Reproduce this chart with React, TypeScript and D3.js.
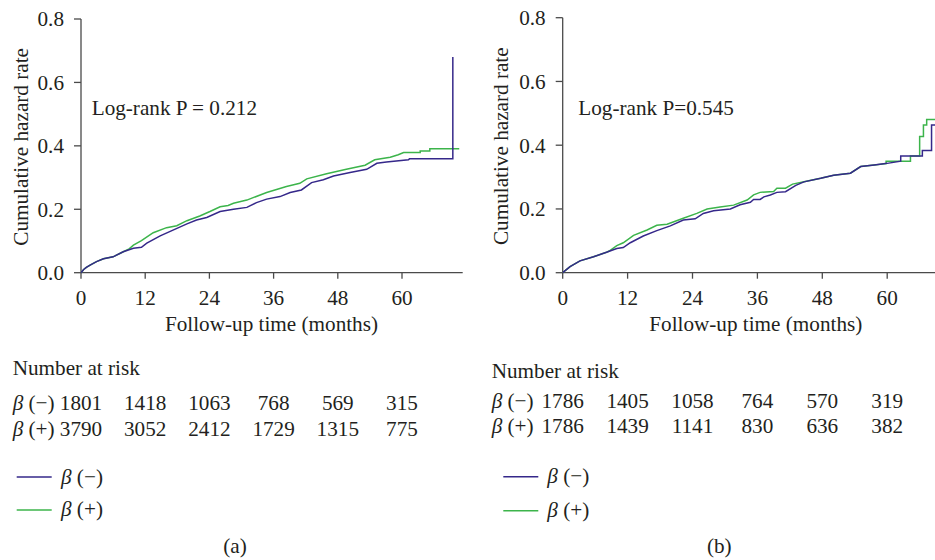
import React from "react";
import * as d3 from "d3";

// ---------- data ----------
const xTicks = [0, 12, 24, 36, 48, 60];
const yTicks = [0, 0.2, 0.4, 0.6, 0.8];

const riskA_neg = [1801, 1418, 1063, 768, 569, 315];
const riskA_pos = [3790, 3052, 2412, 1729, 1315, 775];
const riskB_neg = [1786, 1405, 1058, 764, 570, 319];
const riskB_pos = [1786, 1439, 1141, 830, 636, 382];

const pA = "Log-rank P = 0.212";
const pB = "Log-rank P=0.545";

// Panel (a) β(−)
const aNegT = [0, 0.5, 1, 1.7, 2.9, 4.2, 6.0, 7.9, 9.8, 11.3, 12.3, 14.8, 17.3, 19.8, 21.6, 23.5, 26, 28.5, 31, 32.8, 34.7, 37.2, 39.1, 41.2, 43.1, 45.3, 47.2, 50.3, 53.4, 55.3, 57.1, 61.2, 61.4, 69.5, 69.5];
const aNegV = [0, 0.01, 0.017, 0.024, 0.035, 0.044, 0.05, 0.066, 0.077, 0.08, 0.093, 0.116, 0.135, 0.154, 0.166, 0.174, 0.193, 0.2, 0.206, 0.221, 0.232, 0.24, 0.253, 0.261, 0.284, 0.293, 0.305, 0.316, 0.326, 0.345, 0.349, 0.356, 0.359, 0.359, 0.68];
// Panel (a) β(+)
const aPosT = [0, 0.5, 1, 1.7, 2.9, 4.2, 6.0, 7.9, 9.0, 9.8, 11.3, 13.5, 16, 17.9, 19.8, 22.2, 24.1, 26, 27.5, 28.5, 31, 34.7, 38.4, 40.9, 42.2, 45.9, 49.6, 53.1, 54.9, 57.8, 59.3, 60.3, 63.4, 63.4, 65.2, 65.2, 70.7];
const aPosV = [0, 0.01, 0.017, 0.024, 0.035, 0.044, 0.05, 0.066, 0.075, 0.087, 0.101, 0.126, 0.142, 0.148, 0.164, 0.179, 0.193, 0.208, 0.212, 0.219, 0.229, 0.253, 0.272, 0.282, 0.296, 0.312, 0.326, 0.339, 0.356, 0.364, 0.372, 0.379, 0.379, 0.384, 0.384, 0.391, 0.391];
// Panel (b) β(−)
const bNegT = [0, 1.36, 3.2, 5.7, 8.1, 10, 11.2, 12.5, 14.9, 17.4, 19.9, 22.3, 24.5, 26, 27.9, 31, 32.8, 34.7, 35.3, 36.5, 37.2, 38.4, 39.6, 41.2, 43.1, 44.6, 47.7, 50.1, 53.2, 55.1, 57.6, 60, 62.5, 62.5, 66.5, 66.5, 68.2, 68.2, 70];
const bNegV = [0, 0.019, 0.037, 0.05, 0.064, 0.076, 0.079, 0.094, 0.115, 0.132, 0.147, 0.165, 0.169, 0.186, 0.194, 0.2, 0.213, 0.221, 0.23, 0.23, 0.238, 0.244, 0.252, 0.254, 0.274, 0.285, 0.296, 0.306, 0.312, 0.333, 0.338, 0.343, 0.35, 0.366, 0.366, 0.383, 0.383, 0.463, 0.463];
// Panel (b) β(+)
const bPosT = [0, 1.36, 3.2, 5.7, 8.1, 8.6, 10, 11.2, 13.1, 15.6, 17.4, 19.3, 22.3, 24.8, 26.7, 29.1, 31.6, 34.1, 35.3, 36.5, 39, 39.6, 41.2, 42.5, 44.6, 47.7, 50.1, 53.2, 55.1, 57.6, 59.8, 59.8, 64.3, 64.3, 66, 66, 66.7, 66.7, 67.3, 67.3, 70];
const bPosV = [0, 0.019, 0.037, 0.05, 0.064, 0.068, 0.085, 0.094, 0.117, 0.134, 0.149, 0.152, 0.171, 0.186, 0.2, 0.206, 0.212, 0.228, 0.244, 0.252, 0.255, 0.265, 0.265, 0.278, 0.285, 0.296, 0.306, 0.312, 0.333, 0.338, 0.342, 0.35, 0.35, 0.366, 0.366, 0.427, 0.427, 0.463, 0.463, 0.481, 0.481];

// ---------- style ----------
const FONT = "'Liberation Serif', 'Times New Roman', serif";
const FS = 21.2;
const TXT = "#231f20";
const AXIS = "#4a4a4a";
const BLUE = "#35288a";
const GREEN = "#3cb44b";

type PanelCfg = {
  id: string;
  x0: number; x1: number; xMax: number;
  yTop: number; yBot: number;
  ytitleX: number; xtitleX: number;
  pText: string; pX: number;
  neg: [number[], number[]]; pos: [number[], number[]];
  riskNeg: number[]; riskPos: number[];
  tableX: number; tableY: number; row1: number; row2: number;
  legX0: number; legX1: number; legY1: number; legY2: number; legLabelX: number;
  label: string; labelX: number;
};

function beta(sign: string) {
  return (
    <>
      <tspan fontStyle="italic">β</tspan>
      <tspan> ({sign})</tspan>
    </>
  );
}

function Panel({ c }: { c: PanelCfg }) {
  const x = d3.scaleLinear().domain([0, c.xMax]).range([c.x0, c.x1]);
  const y = d3.scaleLinear().domain([0, 0.8]).range([c.yBot, c.yTop]);
  const mk = (ts: number[], vs: number[]) =>
    d3
      .line<number>()
      .x((t) => x(t))
      .y((_, i) => y(vs[i]))(ts) as string;
  const clipId = "clip-" + c.id;
  return (
    <g fontFamily={FONT} fontSize={FS} fill={TXT}>
      <defs>
        <clipPath id={clipId}>
          <rect x={c.x0} y={0} width={c.x1 - c.x0} height={c.yBot + 1} />
        </clipPath>
      </defs>
      {/* axes */}
      <line x1={c.x0} x2={c.x0} y1={y(0.8)} y2={c.yBot} stroke={AXIS} strokeWidth={1.3} />
      <line x1={c.x0} x2={c.x1} y1={c.yBot} y2={c.yBot} stroke={AXIS} strokeWidth={1.3} />
      {yTicks.map((v) => (
        <g key={"y" + v}>
          <line x1={c.x0 - 7} x2={c.x0} y1={y(v)} y2={y(v)} stroke={AXIS} strokeWidth={1.3} />
          <text x={c.x0 - 17} y={y(v)} dy="0.35em" textAnchor="end">
            {v.toFixed(1)}
          </text>
        </g>
      ))}
      {xTicks.map((t) => (
        <g key={"x" + t}>
          <line x1={x(t)} x2={x(t)} y1={c.yBot} y2={c.yBot + 6} stroke={AXIS} strokeWidth={1.3} />
          <text x={x(t)} y={305} textAnchor="middle">
            {t}
          </text>
        </g>
      ))}
      <text
        transform={`translate(${c.ytitleX},${(c.yBot + y(0.8)) / 2 + 1}) rotate(-90)`}
        textAnchor="middle"
      >
        Cumulative hazard rate
      </text>
      <text x={c.xtitleX} y={331} textAnchor="middle">
        Follow-up time (months)
      </text>
      <text x={c.pX} y={115}>
        {c.pText}
      </text>
      {/* curves */}
      <g clipPath={`url(#${clipId})`} fill="none" strokeWidth={1.5}>
        <path d={mk(c.pos[0], c.pos[1])} stroke={GREEN} />
        <path d={mk(c.neg[0], c.neg[1])} stroke={BLUE} />
      </g>
      {/* risk table */}
      <text x={c.tableX} y={c.tableY}>Number at risk</text>
      <text x={c.tableX} y={c.row1}>{beta("−")}</text>
      <text x={c.tableX} y={c.row2}>{beta("+")}</text>
      {c.riskNeg.map((n, i) => (
        <text key={"rn" + i} x={x(xTicks[i])} y={c.row1} textAnchor="middle">
          {n}
        </text>
      ))}
      {c.riskPos.map((n, i) => (
        <text key={"rp" + i} x={x(xTicks[i])} y={c.row2} textAnchor="middle">
          {n}
        </text>
      ))}
      {/* legend */}
      <line x1={c.legX0} x2={c.legX1} y1={c.legY1} y2={c.legY1} stroke={BLUE} strokeWidth={1.5} />
      <line x1={c.legX0} x2={c.legX1} y1={c.legY2} y2={c.legY2} stroke={GREEN} strokeWidth={1.5} />
      <text x={c.legLabelX} y={c.legY1 + 6.5}>{beta("−")}</text>
      <text x={c.legLabelX} y={c.legY2 + 6}>{beta("+")}</text>
      <text x={c.labelX} y={553} textAnchor="middle">
        {c.label}
      </text>
    </g>
  );
}

const panelA: PanelCfg = {
  id: "a",
  x0: 81, x1: 462.7, xMax: (462.7 - 81) / (64.2 / 12),
  yTop: 19, yBot: 272.7,
  ytitleX: 28, xtitleX: 271.5,
  pText: pA, pX: 91.7,
  neg: [aNegT, aNegV], pos: [aPosT, aPosV],
  riskNeg: riskA_neg, riskPos: riskA_pos,
  tableX: 12.7, tableY: 375, row1: 410, row2: 435.7,
  legX0: 16.7, legX1: 51.7, legY1: 477, legY2: 510, legLabelX: 61,
  label: "(a)", labelX: 235,
};

const panelB: PanelCfg = {
  id: "b",
  x0: 562.7, x1: 935, xMax: (935 - 562.7) / (64.9 / 12),
  yTop: 17.7, yBot: 272.7,
  ytitleX: 508, xtitleX: 755.8,
  pText: pB, pX: 578.3,
  neg: [bNegT, bNegV], pos: [bPosT, bPosV],
  riskNeg: riskB_neg, riskPos: riskB_pos,
  tableX: 491.7, tableY: 378.3, row1: 408.3, row2: 433.3,
  legX0: 503.3, legX1: 538.3, legY1: 476.7, legY2: 510.7, legLabelX: 547.3,
  label: "(b)", labelX: 719.3,
};

export default function App() {
  return (
    <svg
      width={935}
      height={560}
      style={{ position: "absolute", left: 0, top: 0, background: "#fff" }}
    >
      <rect width={935} height={560} fill="#fff" />
      <Panel c={panelA} />
      <Panel c={panelB} />
    </svg>
  );
}
